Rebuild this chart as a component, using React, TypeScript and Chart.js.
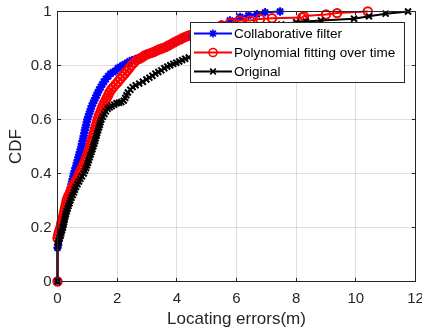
import React, { useEffect, useRef } from "react";
import { Chart, registerables } from "chart.js";

Chart.register(...registerables);

const xTicks = [0, 2, 4, 6, 8, 10, 12];
const yTicks = [0, 0.2, 0.4, 0.6, 0.8, 1];
const yTickLabels = ["0", "0.2", "0.4", "0.6", "0.8", "1"];
const seriesNames = ["Collaborative filter", "Polynomial fitting over time", "Original"];
const xTitle = "Locating errors(m)";
const yTitle = "CDF";

const collabPoints: [number, number][] = [
  [0, 0], [0, 0.125], [0.02, 0.135], [0.04, 0.15], [0.06, 0.16], [0.09, 0.17], [0.11, 0.18], [0.13, 0.19],
  [0.14, 0.2], [0.17, 0.21], [0.19, 0.22], [0.21, 0.23], [0.23, 0.24], [0.25, 0.25], [0.27, 0.26],
  [0.29, 0.27], [0.32, 0.28], [0.33, 0.29], [0.35, 0.3], [0.37, 0.31], [0.39, 0.32], [0.41, 0.33],
  [0.43, 0.34], [0.45, 0.35], [0.47, 0.36], [0.49, 0.37], [0.51, 0.38], [0.53, 0.39], [0.55, 0.4],
  [0.58, 0.41], [0.6, 0.42], [0.63, 0.43], [0.65, 0.44], [0.68, 0.45], [0.7, 0.46], [0.73, 0.47],
  [0.75, 0.48], [0.78, 0.49], [0.8, 0.5], [0.82, 0.51], [0.84, 0.52], [0.86, 0.53], [0.88, 0.54],
  [0.9, 0.55], [0.92, 0.56], [0.94, 0.57], [0.96, 0.58], [0.98, 0.59], [1.0, 0.6], [1.03, 0.61],
  [1.06, 0.62], [1.09, 0.63], [1.12, 0.64], [1.15, 0.65], [1.19, 0.66], [1.23, 0.67], [1.27, 0.68],
  [1.31, 0.69], [1.35, 0.7], [1.4, 0.71], [1.45, 0.72], [1.5, 0.73], [1.56, 0.74], [1.62, 0.75],
  [1.7, 0.76], [1.78, 0.77], [1.86, 0.775], [1.94, 0.78], [2.02, 0.79], [2.1, 0.795], [2.18, 0.8],
  [2.26, 0.805], [2.34, 0.81], [2.42, 0.815], [2.5, 0.82], [2.6, 0.823], [2.7, 0.827], [2.8, 0.83],
  [2.9, 0.835], [3.0, 0.84], [3.1, 0.845], [3.2, 0.85], [3.3, 0.855], [3.4, 0.86], [3.5, 0.865],
  [3.6, 0.87], [3.7, 0.875], [3.8, 0.88], [3.9, 0.885], [4.0, 0.89], [4.1, 0.895], [4.2, 0.9],
  [4.3, 0.903], [4.4, 0.907], [4.5, 0.91], [4.7, 0.918], [4.9, 0.926], [5.2, 0.938], [5.5, 0.952],
  [5.78, 0.967], [6.12, 0.98], [6.4, 0.985], [6.68, 0.99], [6.96, 0.997], [7.46, 1.0],
];

const polyPoints: [number, number][] = [
  [0, 0], [0, 0.16], [0.02, 0.17], [0.04, 0.18], [0.07, 0.19], [0.1, 0.2], [0.12, 0.21], [0.14, 0.22],
  [0.17, 0.23], [0.19, 0.24], [0.21, 0.25], [0.23, 0.26], [0.25, 0.27], [0.27, 0.28], [0.29, 0.29],
  [0.31, 0.3], [0.34, 0.31], [0.38, 0.32], [0.42, 0.33], [0.46, 0.34], [0.5, 0.35], [0.55, 0.36],
  [0.6, 0.37], [0.66, 0.38], [0.7, 0.39], [0.74, 0.4], [0.78, 0.41], [0.82, 0.42], [0.86, 0.43],
  [0.9, 0.44], [0.94, 0.45], [0.97, 0.46], [1.01, 0.47], [1.04, 0.48], [1.07, 0.49], [1.1, 0.5],
  [1.12, 0.51], [1.15, 0.52], [1.17, 0.53], [1.2, 0.54], [1.22, 0.55], [1.25, 0.56], [1.27, 0.57],
  [1.3, 0.58], [1.32, 0.59], [1.35, 0.6], [1.38, 0.61], [1.41, 0.62], [1.45, 0.63], [1.48, 0.64],
  [1.52, 0.65], [1.56, 0.66], [1.61, 0.67], [1.65, 0.68], [1.7, 0.69], [1.74, 0.7], [1.8, 0.71],
  [1.87, 0.72], [1.95, 0.73], [2.03, 0.74], [2.1, 0.75], [2.18, 0.76], [2.26, 0.77], [2.33, 0.78],
  [2.4, 0.79], [2.47, 0.8], [2.56, 0.81], [2.65, 0.82], [2.74, 0.825], [2.83, 0.83], [2.92, 0.837],
  [3.02, 0.842], [3.12, 0.846], [3.22, 0.85], [3.32, 0.855], [3.42, 0.86], [3.52, 0.864], [3.62, 0.868],
  [3.72, 0.874], [3.82, 0.88], [3.92, 0.886], [4.02, 0.892], [4.12, 0.897], [4.22, 0.903], [4.32, 0.908],
  [4.42, 0.912], [4.6, 0.918], [4.9, 0.928], [5.2, 0.938], [5.5, 0.948], [5.8, 0.958], [6.12, 0.967],
  [6.45, 0.967], [6.79, 0.972], [7.19, 0.975], [8.2, 0.978], [8.26, 0.983], [9.0, 0.989], [9.37, 0.994],
  [10.4, 1.0],
];

const originalPoints: [number, number][] = [
  [0, 0], [0, 0.13], [0.02, 0.14], [0.04, 0.15], [0.07, 0.16], [0.1, 0.17], [0.12, 0.18], [0.15, 0.19],
  [0.18, 0.2], [0.2, 0.21], [0.22, 0.22], [0.24, 0.23], [0.26, 0.24], [0.28, 0.25], [0.31, 0.26],
  [0.34, 0.27], [0.37, 0.28], [0.4, 0.29], [0.43, 0.3], [0.47, 0.31], [0.51, 0.32], [0.55, 0.33],
  [0.58, 0.34], [0.62, 0.35], [0.67, 0.36], [0.72, 0.37], [0.77, 0.38], [0.82, 0.39], [0.88, 0.4],
  [0.92, 0.41], [0.96, 0.42], [0.99, 0.43], [1.02, 0.44], [1.05, 0.45], [1.08, 0.46], [1.11, 0.47],
  [1.14, 0.48], [1.17, 0.49], [1.2, 0.5], [1.23, 0.51], [1.26, 0.52], [1.28, 0.53], [1.31, 0.54],
  [1.33, 0.55], [1.36, 0.56], [1.39, 0.57], [1.42, 0.58], [1.44, 0.59], [1.47, 0.6], [1.52, 0.61],
  [1.57, 0.62], [1.62, 0.63], [1.68, 0.64], [1.75, 0.645], [1.82, 0.65], [1.9, 0.655], [1.98, 0.66],
  [2.06, 0.662], [2.14, 0.665], [2.22, 0.67], [2.27, 0.68], [2.31, 0.69], [2.36, 0.7], [2.44, 0.71],
  [2.52, 0.72], [2.62, 0.727], [2.74, 0.733], [2.86, 0.74], [2.98, 0.748], [3.08, 0.755], [3.18, 0.762],
  [3.28, 0.77], [3.38, 0.776], [3.48, 0.782], [3.58, 0.79], [3.68, 0.796], [3.78, 0.801], [3.88, 0.806],
  [3.98, 0.81], [4.08, 0.815], [4.18, 0.82], [4.28, 0.825], [4.4, 0.83], [4.6, 0.84], [5.0, 0.86],
  [5.5, 0.885], [6.0, 0.905], [6.5, 0.925], [7.0, 0.94], [7.5, 0.952], [8.0, 0.96], [8.33, 0.963],
  [8.83, 0.967], [9.94, 0.973], [10.44, 0.982], [11.0, 0.992], [11.75, 1.0],
];

const FONT = '"Liberation Sans", Arial, Helvetica, sans-serif';
const AXIS = "#262626";
const GRID = "rgba(38,38,38,0.15)";
const COLORS = ["#0000ff", "#ff0000", "#000000"];
const STYLES = ["star", "circle", "crossRot"];

function drawMarker(ctx: CanvasRenderingContext2D, style: string, x: number, y: number, r: number, color: string) {
  ctx.save();
  ctx.strokeStyle = color;
  ctx.lineWidth = 1.6;
  ctx.beginPath();
  if (style === "circle") {
    ctx.arc(x, y, r, 0, Math.PI * 2);
  } else {
    const d = r * Math.SQRT1_2;
    ctx.moveTo(x - d, y - d);
    ctx.lineTo(x + d, y + d);
    ctx.moveTo(x - d, y + d);
    ctx.lineTo(x + d, y - d);
    if (style === "star") {
      ctx.moveTo(x - r, y);
      ctx.lineTo(x + r, y);
      ctx.moveTo(x, y - r);
      ctx.lineTo(x, y + r);
    }
  }
  ctx.stroke();
  ctx.restore();
}

const boxPlugin = {
  id: "matlabBox",
  afterDatasetsDraw(chart: any) {
    const { ctx, chartArea: a, scales } = chart;
    ctx.save();
    ctx.strokeStyle = AXIS;
    ctx.lineWidth = 1;
    const tl = 3.6;
    ctx.beginPath();
    xTicks.forEach((v) => {
      const px = Math.round(scales.x.getPixelForValue(v) - 0.5) + 0.5;
      ctx.moveTo(px, a.bottom);
      ctx.lineTo(px, a.bottom - tl);
      ctx.moveTo(px, a.top);
      ctx.lineTo(px, a.top + tl);
    });
    yTicks.forEach((v) => {
      const py = Math.round(scales.y.getPixelForValue(v) - 0.5) + 0.5;
      ctx.moveTo(a.left, py);
      ctx.lineTo(a.left + tl, py);
      ctx.moveTo(a.right, py);
      ctx.lineTo(a.right - tl, py);
    });
    ctx.stroke();
    ctx.strokeRect(a.left, a.top, a.right - a.left, a.bottom - a.top);

    // legend
    const lx = 190.5, ly = 22.5, lw = 214, lh = 60;
    ctx.fillStyle = "#ffffff";
    ctx.fillRect(lx, ly, lw, lh);
    ctx.strokeStyle = AXIS;
    ctx.lineWidth = 1;
    ctx.strokeRect(lx, ly, lw, lh);
    const rows = [33.5, 52.5, 71.5];
    ctx.font = `13.5px ${FONT}`;
    ctx.textBaseline = "middle";
    ctx.textAlign = "left";
    seriesNames.forEach((name, i) => {
      const ry = rows[i];
      ctx.strokeStyle = COLORS[i];
      ctx.lineWidth = 2;
      ctx.beginPath();
      ctx.moveTo(194, ry);
      ctx.lineTo(232, ry);
      ctx.stroke();
      drawMarker(ctx, STYLES[i], 213, ry, 4, COLORS[i]);
      ctx.fillStyle = "#000000";
      ctx.fillText(name, 234, ry + 0.5);
    });
    ctx.restore();
  },
};

export default function App() {
  const ref = useRef<HTMLCanvasElement>(null);
  useEffect(() => {
    const canvas = ref.current;
    if (!canvas) return;
    const mk = (pts: [number, number][]) => pts.map(([x, y]) => ({ x, y }));
    const allPoints = [collabPoints, polyPoints, originalPoints];
    const chart = new Chart(canvas, {
      type: "line",
      data: {
        datasets: allPoints.map((pts, i) => ({
          label: seriesNames[i],
          data: mk(pts),
          borderColor: COLORS[i],
          backgroundColor: COLORS[i],
          pointBorderColor: COLORS[i],
          pointBackgroundColor: "rgba(0,0,0,0)",
          pointStyle: STYLES[i] as any,
          pointRadius: 4.2,
          pointBorderWidth: 2,
          borderWidth: 2,
          tension: 0,
          clip: false as any,
          order: 3 - i,
        })),
      },
      options: {
        responsive: false,
        animation: false,
        events: [],
        layout: { padding: { top: 11.5, right: 6.5, left: 0, bottom: 0 } },
        plugins: { legend: { display: false }, tooltip: { enabled: false } },
        scales: {
          x: {
            type: "linear",
            min: 0,
            max: 12,
            afterBuildTicks: (s: any) => {
              s.ticks = xTicks.map((v) => ({ value: v }));
            },
            afterFit: (s: any) => {
              s.height = 48.5;
              s.paddingLeft = 0;
              s.paddingRight = 0;
            },
            grid: { color: GRID, drawTicks: false, lineWidth: 1 },
            border: { display: false },
            ticks: {
              font: { family: FONT, size: 15 },
              color: AXIS,
              padding: 8,
              maxRotation: 0,
              autoSkip: false,
              callback: (v: any) => String(v),
            },
            title: {
              display: true,
              text: xTitle,
              font: { family: FONT, size: 17 },
              color: AXIS,
              padding: { top: 0, bottom: 0 },
            },
          },
          y: {
            type: "linear",
            min: 0,
            max: 1,
            afterBuildTicks: (s: any) => {
              s.ticks = yTicks.map((v) => ({ value: v }));
            },
            afterFit: (s: any) => {
              s.width = 57.5;
              s.paddingTop = 0;
              s.paddingBottom = 0;
            },
            grid: { color: GRID, drawTicks: false, lineWidth: 1 },
            border: { display: false },
            ticks: {
              font: { family: FONT, size: 15 },
              color: AXIS,
              padding: 6,
              autoSkip: false,
              callback: (_v: any, i: number) => yTickLabels[i],
            },
            title: {
              display: true,
              text: yTitle,
              font: { family: FONT, size: 17 },
              color: AXIS,
              padding: { top: 6, bottom: 0 },
            },
          },
        },
      },
      plugins: [boxPlugin],
    } as any);
    return () => chart.destroy();
  }, []);
  return (
    <div style={{ position: "fixed", left: 0, top: 0, width: 422, height: 330, background: "#fff" }}>
      <canvas ref={ref} width={422} height={330} style={{ display: "block" }} />
    </div>
  );
}
